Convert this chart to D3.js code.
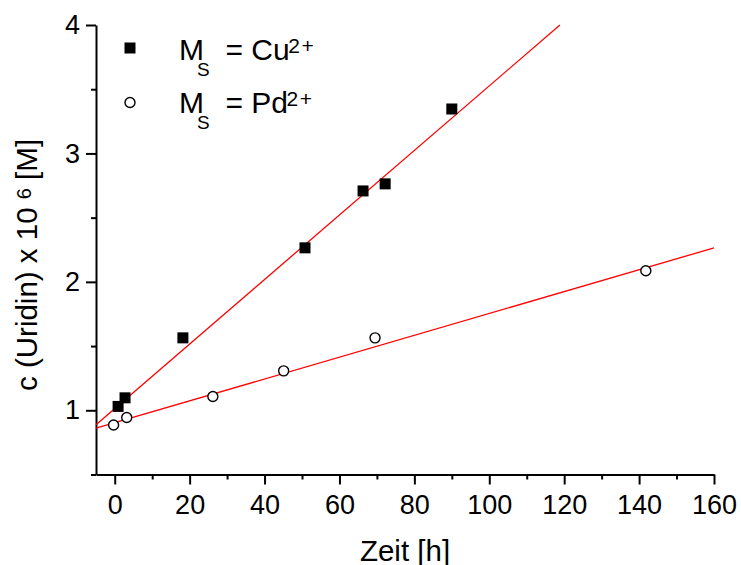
<!DOCTYPE html>
<html>
<head>
<meta charset="utf-8">
<script src="https://cdn.jsdelivr.net/npm/d3@7"></script>
<style>
  html, body { margin: 0; padding: 0; background: #fff; }
  svg { display: block; font-family: "Liberation Sans", Arial, Helvetica, sans-serif; }
</style>
</head>
<body>
<svg id="chart" width="741" height="565"></svg>
<script>
// Measured uridine concentration over time for two metal salts
const cuTime = [0.9, 2.75, 18.2, 50.8, 66.3, 72.2, 90.0];
const cuConc = [1.03, 1.097, 1.564, 2.265, 2.708, 2.763, 3.346];
const pdTime = [-0.3, 3.2, 26.2, 45.1, 69.5, 141.8];
const pdConc = [0.885, 0.944, 1.107, 1.307, 1.564, 2.086];

// Linear fits: c = intercept + slope * t
const cuFit = { slope: 0.02513, intercept: 1.013 };
const pdFit = { slope: 0.00851, intercept: 0.903 };

const xMajorTicks = [0, 20, 40, 60, 80, 100, 120, 140, 160];
const xMinorTicks = [10, 30, 50, 70, 90, 110, 130, 150];
const yMajorTicks = [1, 2, 3, 4];
const yMinorTicks = [0.5, 1.5, 2.5, 3.5];

const xDomain = [-5, 160];
const yDomain = [0.5, 4];

const svg = d3.select("#chart");
const plot = { left: 96, right: 714, top: 25, bottom: 474.5 };

const x = d3.scaleLinear().domain(xDomain).range([plot.left, plot.right]);
const y = d3.scaleLinear().domain(yDomain).range([plot.bottom, plot.top]);

// Axes
function styleAxis(g) {
  g.selectAll("path.domain").attr("stroke", "#000").attr("stroke-width", 2);
  g.selectAll(".tick line").attr("stroke", "#000").attr("stroke-width", 2);
  g.selectAll(".tick text").attr("fill", "#000").attr("font-size", 27)
    .attr("font-family", "'Liberation Sans', Arial, sans-serif");
}

svg.append("g")
  .attr("transform", `translate(0,${plot.bottom})`)
  .call(d3.axisBottom(x).tickValues(xMinorTicks).tickSize(5).tickFormat("").tickSizeOuter(0))
  .call(g => { styleAxis(g); g.select("path.domain").remove(); });

svg.append("g")
  .attr("transform", `translate(${plot.left},0)`)
  .call(d3.axisLeft(y).tickValues(yMinorTicks).tickSize(5).tickFormat("").tickSizeOuter(0))
  .call(g => { styleAxis(g); g.select("path.domain").remove(); });

svg.append("g")
  .attr("transform", `translate(0,${plot.bottom})`)
  .call(d3.axisBottom(x).tickValues(xMajorTicks).tickSize(10).tickPadding(10).tickSizeOuter(0)
    .tickFormat(d3.format("d")))
  .call(styleAxis);

svg.append("g")
  .attr("transform", `translate(${plot.left},0)`)
  .call(d3.axisLeft(y).tickValues(yMajorTicks).tickSize(10).tickPadding(6).tickSizeOuter(0)
    .tickFormat(d3.format("d")))
  .call(styleAxis);

// Axis titles
svg.append("text")
  .attr("x", (plot.left + plot.right) / 2)
  .attr("y", 561)
  .attr("text-anchor", "middle")
  .attr("font-size", 29.5)
  .text("Zeit [h]");

const yTitle = svg.append("text")
  .attr("transform", "translate(37,391) rotate(-90)")
  .attr("text-anchor", "start")
  .attr("font-size", 29.5);
yTitle.append("tspan").text("c (Uridin) x 10 ");
yTitle.append("tspan").attr("font-size", 20).attr("dy", -6).text("6");
yTitle.append("tspan").attr("dy", 6).text(" [M]");

// Fit lines
const line = d3.line().x(d => x(d[0])).y(d => y(d[1]));
const fitPoints = (fit, t0, t1) => [[t0, fit.intercept + fit.slope * t0], [t1, fit.intercept + fit.slope * t1]];
const cuEnd = Math.min(xDomain[1], (yDomain[1] - cuFit.intercept) / cuFit.slope);
const pdEnd = Math.min(xDomain[1], (yDomain[1] - pdFit.intercept) / pdFit.slope);

svg.append("path")
  .attr("d", line(fitPoints(cuFit, xDomain[0], cuEnd)))
  .attr("fill", "none").attr("stroke", "#ff0000").attr("stroke-width", 1.3);
svg.append("path")
  .attr("d", line(fitPoints(pdFit, xDomain[0], pdEnd)))
  .attr("fill", "none").attr("stroke", "#ff0000").attr("stroke-width", 1.3);

// Data markers
const sq = 11;
svg.append("g").selectAll("rect")
  .data(d3.zip(cuTime, cuConc))
  .join("rect")
  .attr("x", d => x(d[0]) - sq / 2)
  .attr("y", d => y(d[1]) - sq / 2)
  .attr("width", sq).attr("height", sq)
  .attr("fill", "#000");

svg.append("g").selectAll("circle")
  .data(d3.zip(pdTime, pdConc))
  .join("circle")
  .attr("cx", d => x(d[0]))
  .attr("cy", d => y(d[1]))
  .attr("r", 5)
  .attr("fill", "#fff")
  .attr("stroke", "#000")
  .attr("stroke-width", 1.4);

// Legend
const legendItems = [
  { ion: "Cu", marker: "square" },
  { ion: "Pd", marker: "circle" }
];
const legend = svg.append("g");
legendItems.forEach((item, i) => {
  const cy = 48 + i * 54.5;
  if (item.marker === "square") {
    legend.append("rect").attr("x", 130 - sq / 2).attr("y", cy - sq / 2)
      .attr("width", sq).attr("height", sq).attr("fill", "#000");
  } else {
    legend.append("circle").attr("cx", 130).attr("cy", cy).attr("r", 5)
      .attr("fill", "#fff").attr("stroke", "#000").attr("stroke-width", 1.4);
  }
  const base = 60 + i * 53;
  const t = legend.append("text").attr("y", base).attr("font-size", 30);
  t.append("tspan").attr("x", 179).text("M");
  t.append("tspan").attr("x", 197).attr("dy", 16).attr("font-size", 19).text("S");
  t.append("tspan").attr("x", 225.5).attr("dy", -16).text("= " + item.ion);
  t.append("tspan").attr("dy", -7).attr("dx", -1.5).attr("font-size", 21)
    .attr("letter-spacing", 1.5).text("2+");
});
</script>
</body>
</html>
